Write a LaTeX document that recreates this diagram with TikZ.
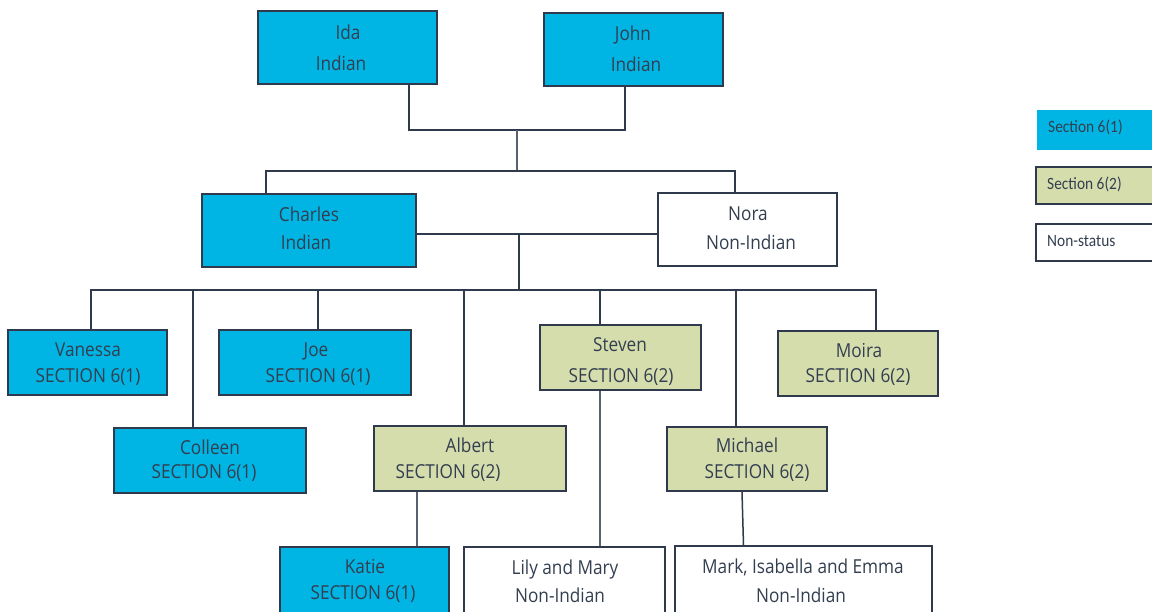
\documentclass[tikz,border=0pt]{standalone}
\usepackage{fontspec}
\usepackage{graphicx}
\setmainfont{Open Sans}
\newfontfamily\legfont{Carlito}
\definecolor{cyanfill}{HTML}{00B4E3}
\definecolor{olivefill}{HTML}{D6DDAD}
\definecolor{edge}{HTML}{2F3A4D}
\definecolor{textc}{HTML}{333F50}
\newcommand\vs[1]{\scalebox{1}[1.12]{#1}}
\begin{document}
\begin{tikzpicture}[x=1pt,y=-1pt,
  box/.style={draw=edge,line width=1.6pt,inner sep=0pt,anchor=center},
  sixone/.style={box,fill=cyanfill},
  sixtwo/.style={box,fill=olivefill},
  nonstat/.style={box,fill=white},
  txt/.style={text=textc,inner sep=0pt,anchor=base,font=\fontsize{17.2}{19}\selectfont},
  legtxt/.style={text=textc,inner sep=0pt,anchor=base west,font=\legfont\fontsize{15.4}{16}\selectfont},
  conn/.style={draw=edge,line width=1.5pt},
  thinconn/.style={draw=edge!80,line width=1.1pt}]
\useasboundingbox (0,0) rectangle (1152,611);
\clip (0,0) rectangle (1152,611);
\fill[white] (0,0) rectangle (1152,611);

% generation 1
\node[sixone,minimum width=179pt,minimum height=73pt] (ida) at (347.5,47.5) {};
\node[sixone,minimum width=179pt,minimum height=73pt] (john) at (633.5,49.5) {};
% generation 2
\node[sixone,minimum width=214pt,minimum height=73pt] (charles) at (309,230.5) {};
\node[nonstat,minimum width=179pt,minimum height=73pt] (nora) at (747.5,229.5) {};
% generation 3
\node[sixone,minimum width=159pt,minimum height=65pt] (vanessa) at (87.5,362.5) {};
\node[sixone,minimum width=192pt,minimum height=65pt] (joe) at (315,362.5) {};
\node[sixone,minimum width=192pt,minimum height=65pt] (colleen) at (210,460.5) {};
\node[sixtwo,minimum width=192pt,minimum height=65pt] (albert) at (470,458.5) {};
\node[sixtwo,minimum width=161pt,minimum height=65pt] (steven) at (620.5,357.5) {};
\node[sixtwo,minimum width=160pt,minimum height=64pt] (michael) at (747,459) {};
\node[sixtwo,minimum width=160pt,minimum height=65pt] (moira) at (858,363.5) {};
% generation 4
\node[sixone,minimum width=169pt,minimum height=73pt] (katie) at (364.5,583.5) {};
\node[nonstat,minimum width=201pt,minimum height=73pt] (lily) at (564.5,583.5) {};
\node[nonstat,minimum width=257pt,minimum height=73pt] (mark) at (803.5,582.5) {};

% legend
\node[box,draw=none,fill=cyanfill,minimum width=130pt,minimum height=40pt] (leg1) at (1102,130) {};
\node[sixtwo,minimum width=130pt,minimum height=37pt] (leg2) at (1101,185.5) {};
\node[nonstat,minimum width=130pt,minimum height=37pt] (leg3) at (1101,242.5) {};
\node[legtxt] (leg1t) at (1048,132) {\vs{Section 6(1)}};
\node[legtxt] (leg2t) at (1047,189) {\vs{Section 6(2)}};
\node[legtxt] (leg3t) at (1047,246) {\vs{Non-status}};

% connectors
\coordinate (j1) at (517,130);
\coordinate (j2) at (517,171);
\draw[conn] ([xshift=61.5pt]ida.south) |- (j1) -| ([xshift=-8.5pt]john.south);
\draw[thinconn] (j1) -- (j2);
\draw[conn] ([xshift=-43pt]charles.north) |- (j2) -| ([xshift=-12.5pt]nora.north);
\draw[conn] ([yshift=-3.5pt]charles.east) -- ([yshift=-3.5pt]charles.east -| nora.west);
\coordinate (j3) at (519,234);
\coordinate (j4) at (519,290);
\draw[conn] (j3) -- (j4);
\draw[conn] ([xshift=3.5pt]vanessa.north) |- (j4) -| ([xshift=18pt]moira.north);
\draw[conn] ([xshift=-17pt]colleen.north) -- ([xshift=-17pt]colleen.north |- j4);
\draw[conn] ([xshift=3pt]joe.north) -- ([xshift=3pt]joe.north |- j4);
\draw[conn] ([xshift=-6pt]albert.north) -- ([xshift=-6pt]albert.north |- j4);
\draw[conn] ([xshift=-20.5pt]steven.north) -- ([xshift=-20.5pt]steven.north |- j4);
\draw[conn] ([xshift=-11pt]michael.north) -- ([xshift=-11pt]michael.north |- j4);
\draw[thinconn] ([xshift=-53pt]albert.south) -- ([xshift=52.5pt]katie.north);
\draw[thinconn] ([xshift=-20.5pt]steven.south) -- ([xshift=-20.5pt]steven.south |- lily.north);
\draw[conn] ([xshift=-5pt]michael.south) -- ([xshift=-60pt]mark.north);

% texts
\node[txt] (ida-a) at (348,39) {\vs{Ida}};
\node[txt] (ida-b) at (341,70) {\vs{Indian}};
\node[txt] (john-a) at (633,40) {\vs{John}};
\node[txt] (john-b) at (636,71) {\vs{Indian}};
\node[txt] (charles-a) at (309,221) {\vs{Charles}};
\node[txt] (charles-b) at (306,249) {\vs{Indian}};
\node[txt] (nora-a) at (748,220) {\vs{Nora}};
\node[txt] (nora-b) at (751,249) {\vs{Non-Indian}};
\node[txt] (vanessa-a) at (88,356) {\vs{Vanessa}};
\node[txt] (vanessa-b) at (88,382) {\vs{SECTION 6(1)}};
\node[txt] (joe-a) at (316,356) {\vs{Joe}};
\node[txt] (joe-b) at (318,382) {\vs{SECTION 6(1)}};
\node[txt] (colleen-a) at (210,454) {\vs{Colleen}};
\node[txt] (colleen-b) at (204,478) {\vs{SECTION 6(1)}};
\node[txt] (albert-a) at (470,452) {\vs{Albert}};
\node[txt] (albert-b) at (448,478) {\vs{SECTION 6(2)}};
\node[txt] (steven-a) at (620,351) {\vs{Steven}};
\node[txt] (steven-b) at (621,382) {\vs{SECTION 6(2)}};
\node[txt] (moira-a) at (859,357) {\vs{Moira}};
\node[txt] (moira-b) at (858,382) {\vs{SECTION 6(2)}};
\node[txt] (michael-a) at (747,452) {\vs{Michael}};
\node[txt] (michael-b) at (757,478) {\vs{SECTION 6(2)}};
\node[txt] (katie-a) at (365,573) {\vs{Katie}};
\node[txt] (katie-b) at (363,599) {\vs{SECTION 6(1)}};
\node[txt] (lily-a) at (565,574) {\vs{Lily and Mary}};
\node[txt] (lily-b) at (560,602) {\vs{Non-Indian}};
\node[txt] (mark-a) at (803,573) {\vs{Mark, Isabella and Emma}};
\node[txt] (mark-b) at (801,602) {\vs{Non-Indian}};
\end{tikzpicture}
\end{document}
